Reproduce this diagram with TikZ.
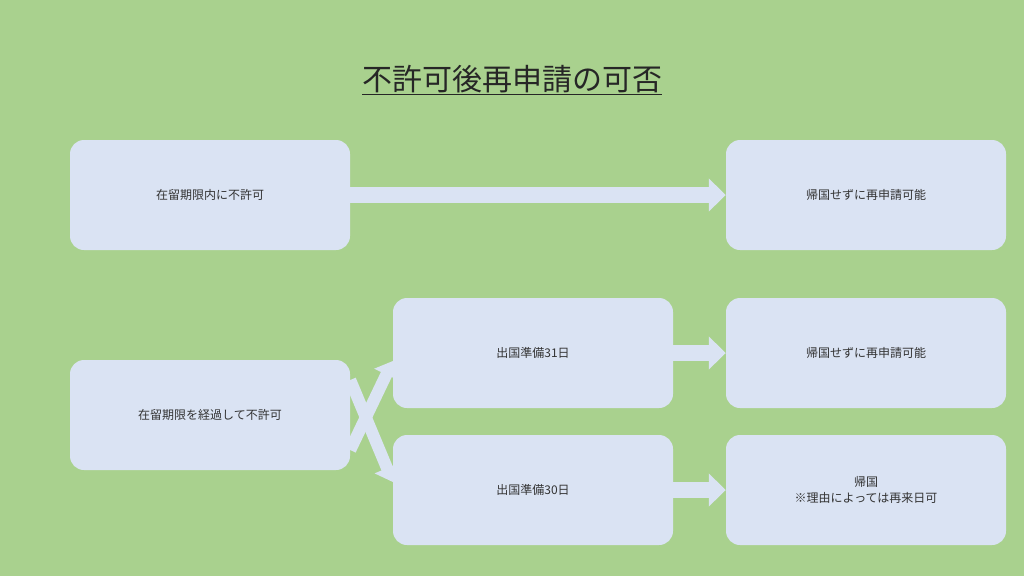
\documentclass[tikz,border=0pt]{standalone}
\usepackage{fontspec}
\setmainfont{Noto Sans CJK JP}
\usetikzlibrary{arrows.meta}
\definecolor{bg}{HTML}{A9D18E}
\definecolor{bx}{HTML}{DAE3F3}
\begin{document}
\begin{tikzpicture}[x=1pt,y=-1pt,
  box/.style={fill=bx,rounded corners=14pt,minimum width=280pt,minimum height=110pt,inner sep=0pt,align=center,font=\fontsize{12}{16}\selectfont,text=black!80},
  barrow/.style={draw=bx,line width=16pt,-{Triangle[width=32pt,length=17pt]}},
  darrow/.style={draw=bx,line width=12pt,-{Triangle[width=26pt,length=15pt]}}]
\fill[bg] (0,0) rectangle (1024,576);
\useasboundingbox (0,0) rectangle (1024,576);
\node[font=\fontsize{30}{36}\selectfont,text=black!85] (title) at (512,80) {\underline{不許可後再申請の可否}};
\node[box] (a) at (210,195) {在留期限内に不許可};
\node[box] (b) at (866,195) {帰国せずに再申請可能};
\node[box] (c) at (210,415) {在留期限を経過して不許可};
\node[box] (d) at (533,353) {出国準備31日};
\node[box] (e) at (866,353) {帰国せずに再申請可能};
\node[box] (f) at (533,490) {出国準備30日};
\node[box] (g) at (866,490) {帰国\\※理由によっては再来日可};
\draw[barrow] (a.east) -- (b.west);
\draw[barrow] (d.east) -- (e.west);
\draw[barrow] (f.east) -- (g.west);
\draw[darrow] ([yshift=-35pt]c.east) -- ([yshift=-8pt]d.west);
\draw[darrow] ([yshift=35pt]c.east) -- ([yshift=8pt]f.west);
\end{tikzpicture}
\end{document}
